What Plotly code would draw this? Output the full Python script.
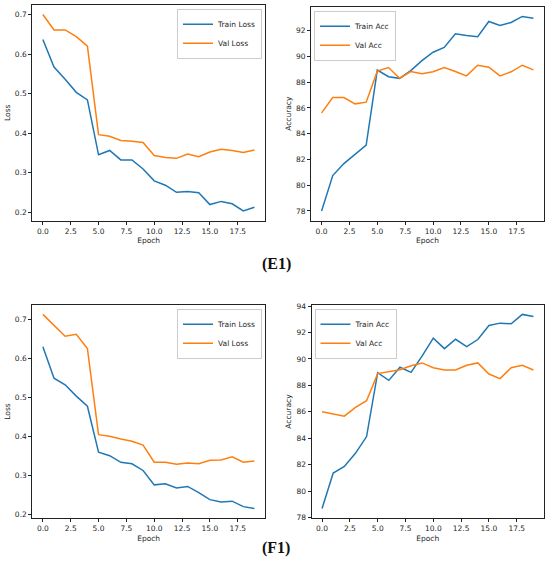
import plotly.graph_objects as go

# データ：エポック
epochs = list(range(20))

# (E1) 損失
e1_train_loss = [0.637, 0.567, 0.536, 0.503, 0.484, 0.345, 0.356, 0.332, 0.332, 0.309,
                 0.279, 0.268, 0.250, 0.252, 0.249, 0.219, 0.227, 0.221, 0.203, 0.212]
e1_val_loss = [0.700, 0.661, 0.661, 0.644, 0.620, 0.396, 0.392, 0.381, 0.379, 0.376,
               0.343, 0.338, 0.336, 0.347, 0.340, 0.352, 0.359, 0.356, 0.351, 0.357]
# (E1) 精度
e1_train_acc = [78.00, 80.75, 81.68, 82.41, 83.11, 88.95, 88.43, 88.30, 88.90, 89.68,
                90.33, 90.70, 91.76, 91.63, 91.53, 92.72, 92.41, 92.64, 93.11, 92.96]
e1_val_acc = [85.62, 86.81, 86.81, 86.32, 86.45, 88.86, 89.14, 88.31, 88.83, 88.65,
              88.81, 89.14, 88.83, 88.49, 89.32, 89.17, 88.49, 88.81, 89.32, 88.96]

# (F1) 損失
f1_train_loss = [0.631, 0.550, 0.533, 0.504, 0.478, 0.360, 0.351, 0.334, 0.330, 0.313,
                 0.276, 0.279, 0.268, 0.272, 0.256, 0.238, 0.232, 0.234, 0.220, 0.215]
f1_val_loss = [0.714, 0.686, 0.658, 0.663, 0.626, 0.405, 0.401, 0.394, 0.388, 0.378,
               0.334, 0.334, 0.329, 0.332, 0.330, 0.339, 0.340, 0.348, 0.334, 0.337]
# (F1) 精度
f1_train_acc = [78.68, 81.37, 81.87, 82.86, 84.13, 88.96, 88.38, 89.37, 88.99, 90.23,
                91.57, 90.78, 91.49, 90.94, 91.47, 92.53, 92.71, 92.66, 93.37, 93.22]
f1_val_acc = [86.00, 85.85, 85.67, 86.33, 86.84, 88.89, 89.04, 89.19, 89.49, 89.70,
              89.34, 89.16, 89.16, 89.52, 89.70, 88.86, 88.51, 89.34, 89.52, 89.16]

x_ticks = [0, 2.5, 5, 7.5, 10, 12.5, 15, 17.5]
captions = ['(E1)', '(F1)']

# グラフの装飾
blue = '#1f77b4'
orange = '#ff7f0e'
font_color = '#262626'
fsize = 7.5
W, H = 550, 573


def px_x(p):
    return p / W


def px_y(p):
    return 1 - p / H


def pad_range(*series):
    lo = min(min(s) for s in series)
    hi = max(max(s) for s in series)
    m = (hi - lo) * 0.05
    return [lo - m, hi + m]


# 各パネル：(軸番号, 学習, 検証, 名前, y軸タイトル, 凡例位置)
panels = [
    (1, e1_train_loss, e1_val_loss, 'Loss', 'Loss', 'right'),
    (2, e1_train_acc, e1_val_acc, 'Acc', 'Accuracy', 'left'),
    (3, f1_train_loss, f1_val_loss, 'Loss', 'Loss', 'right'),
    (4, f1_train_acc, f1_val_acc, 'Acc', 'Accuracy', 'left'),
]

# ピクセル位置 (左, 右, 上, 下)
boxes = {
    1: (32.3, 265.0, 4.7, 220.7),
    2: (311.0, 544.0, 6.7, 220.7),
    3: (32.3, 265.0, 304.7, 518.3),
    4: (311.5, 544.0, 304.7, 518.3),
}

fig = go.Figure()
layout = dict(
    width=W, height=H,
    paper_bgcolor='white', plot_bgcolor='white',
    margin=dict(l=0, r=0, t=0, b=0),
    font=dict(family='DejaVu Sans', size=fsize, color=font_color),
    showlegend=True,
    annotations=[],
)

for idx, tr, va, nm, ytitle, lpos in panels:
    sfx = '' if idx == 1 else str(idx)
    leg = 'legend' if idx == 1 else 'legend' + str(idx)
    fig.add_trace(go.Scatter(x=epochs, y=tr, mode='lines', name='Train ' + nm,
                             line=dict(color=blue, width=1.5),
                             xaxis='x' + sfx, yaxis='y' + sfx, legend=leg))
    fig.add_trace(go.Scatter(x=epochs, y=va, mode='lines', name='Val ' + nm,
                             line=dict(color=orange, width=1.5),
                             xaxis='x' + sfx, yaxis='y' + sfx, legend=leg))
    l, r, t, b = boxes[idx]
    common = dict(showline=True, mirror=True, linecolor='#222', linewidth=1,
                  showgrid=False, zeroline=False, ticks='outside', ticklen=3,
                  tickcolor='#222', tickfont=dict(size=fsize), automargin=False)
    layout['xaxis' + sfx] = dict(
        common, domain=[px_x(l), px_x(r)], anchor='y' + sfx,
        range=[-0.95, 19.95], tickvals=x_ticks, tickformat='.1f',
        title=dict(text='Epoch', standoff=3, font=dict(size=fsize)))
    if nm == 'Loss':
        yt = dict(dtick=0.1, tick0=0, tickformat='.1f')
    else:
        yt = dict(dtick=2, tick0=0)
    layout['yaxis' + sfx] = dict(
        common, domain=[px_y(b), px_y(t)], anchor='x' + sfx,
        range=pad_range(tr, va), **yt,
        title=dict(text=ytitle, standoff=3, font=dict(size=fsize)))
    if lpos == 'right':
        lx, xa = px_x(r - 3), 'right'
    else:
        lx, xa = px_x(l + 3), 'left'
    layout[leg] = dict(x=lx, xanchor=xa, y=px_y(t + 4), yanchor='top',
                       bgcolor='white', bordercolor='#cccccc', borderwidth=1,
                       font=dict(size=fsize, color=font_color), tracegroupgap=0,
                       itemwidth=30)

# キャプション
for cap, yp in zip(captions, [264, 548]):
    layout['annotations'].append(dict(
        text='<b>' + cap + '</b>', x=px_x(276), y=px_y(yp), xref='paper', yref='paper',
        showarrow=False, xanchor='center', yanchor='middle',
        font=dict(family='Liberation Serif', size=16, color='#111')))

fig.update_layout(layout)
# bodyの余白を消す
fig.write_html('out.html', config={'displayModeBar': False},
               post_script="document.body.style.margin='0';")
